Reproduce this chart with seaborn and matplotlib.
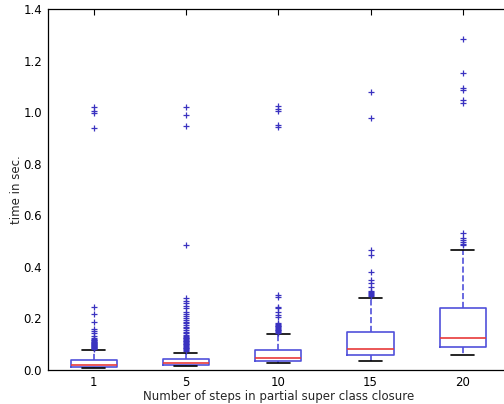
import numpy as np
import pandas as pd
import matplotlib
matplotlib.use("Agg")
import matplotlib.pyplot as plt
import seaborn as sns

# ---- data ----
steps = ["1", "5", "10", "15", "20"]
q1 = [0.012, 0.019, 0.0335, 0.059, 0.090]
median = [0.018, 0.026, 0.045, 0.080, 0.125]
q3 = [0.038, 0.041, 0.0775, 0.148, 0.241]
whisker_low = [0.008, 0.014, 0.026, 0.035, 0.057]
whisker_high = [0.076, 0.066, 0.138, 0.278, 0.465]

fliers_1 = [0.082, 0.084, 0.086, 0.088, 0.090, 0.092, 0.094, 0.096, 0.098, 0.100,
            0.102, 0.104, 0.106, 0.108, 0.110, 0.112, 0.115, 0.118, 0.121, 0.124,
            0.132, 0.145, 0.152, 0.159, 0.185, 0.216, 0.243,
            0.938, 0.998, 1.003, 1.020]
fliers_5 = [0.075, 0.078, 0.081, 0.084, 0.087, 0.090, 0.093, 0.096, 0.099, 0.102,
            0.105, 0.108, 0.111, 0.114, 0.117, 0.120, 0.123, 0.126, 0.129, 0.132,
            0.136, 0.142, 0.148, 0.155, 0.162, 0.168, 0.175, 0.181, 0.188, 0.194,
            0.201, 0.209, 0.217, 0.226, 0.239, 0.248, 0.258, 0.269, 0.278,
            0.485, 0.948, 0.988, 1.019]
fliers_10 = [0.145, 0.148, 0.151, 0.154, 0.157, 0.160, 0.163, 0.166, 0.169, 0.172,
             0.175, 0.178, 0.183, 0.207, 0.213, 0.224, 0.239, 0.245, 0.284, 0.290,
             0.944, 0.952, 1.005, 1.012, 1.022]
fliers_15 = [0.287, 0.291, 0.295, 0.299, 0.303, 0.306, 0.323, 0.336, 0.349, 0.379,
             0.446, 0.465, 0.978, 1.080]
fliers_20 = [0.484, 0.490, 0.497, 0.503, 0.510, 0.530,
             1.035, 1.049, 1.087, 1.095, 1.152, 1.283]
fliers = [fliers_1, fliers_5, fliers_10, fliers_15, fliers_20]

# build a sample per group whose box statistics equal the values above
rows = []
for s, lo, a, m, b, hi, fl in zip(steps, whisker_low, q1, median, q3, whisker_high, fliers):
    core = [lo] + [a] * 200 + [m] * 200 + [b] * 200 + [hi]
    for v in core + fl:
        rows.append((s, v))
df = pd.DataFrame(rows, columns=["steps", "time"])

# ---- style ----
sns.set_style("white")
plt.rcParams["font.family"] = ["DejaVu Sans"]

box_c = "#5050da"
flier_c = "#3a32c0"

fig = plt.figure(figsize=(5.04, 4.04), dpi=100)
ax = fig.add_axes([47.5 / 504, 34 / 404, 461.5 / 504, 361 / 404])

sns.boxplot(
    data=df, x="steps", y="time", order=steps, ax=ax,
    width=0.5, fill=False, color=box_c, whis=1.5,
    boxprops=dict(color=box_c, linewidth=1.2),
    medianprops=dict(color="#e83a3a", linewidth=1.2),
    whiskerprops=dict(color=box_c, linestyle="--", linewidth=1.2),
    capprops=dict(color="black", linewidth=1.2),
    flierprops=dict(marker="+", markeredgecolor=flier_c, markerfacecolor=flier_c,
                    markersize=5, markeredgewidth=0.9),
)

ax.set_ylim(0, 1.4)
ax.set_yticks(np.arange(0, 1.41, 0.2))
ax.set_yticklabels([f"{v:.1f}" for v in np.arange(0, 1.41, 0.2)])
ax.set_xlim(-0.5, 4.5)
ax.tick_params(direction="in", top=True, right=False, length=4, width=0.8,
               labelsize=8.5, colors="black", pad=4)
for sp in ax.spines.values():
    sp.set_visible(True)
    sp.set_color("black")
    sp.set_linewidth(0.9)
ax.set_xlabel("Number of steps in partial super class closure", fontsize=8.5, labelpad=1)
ax.set_ylabel("time in sec.", fontsize=8.5, labelpad=0.5)

fig.savefig("out.png", dpi=100)
